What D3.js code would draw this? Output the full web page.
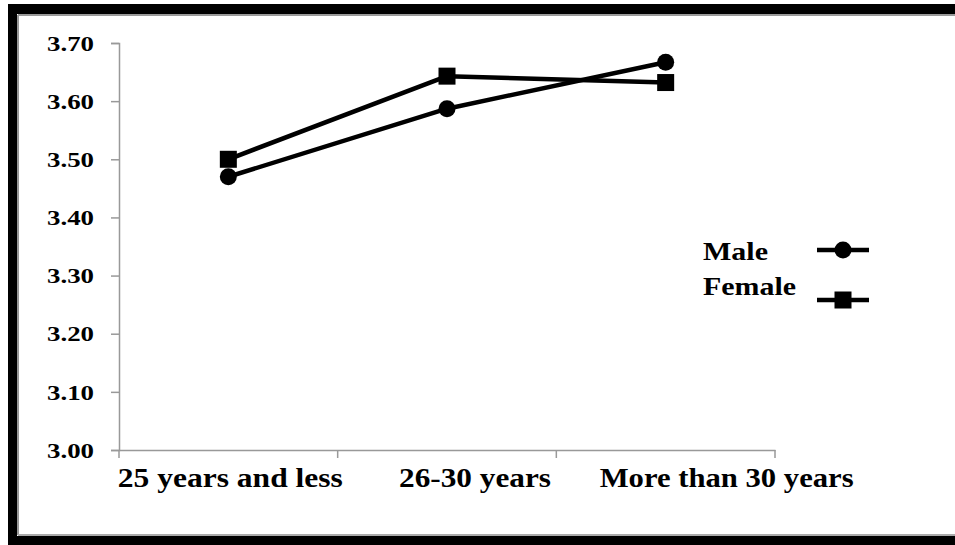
<!DOCTYPE html>
<html>
<head>
<meta charset="utf-8">
<script src="https://cdn.jsdelivr.net/npm/d3@7/dist/d3.min.js"></script>
<style>
  html, body { margin: 0; padding: 0; background: #fff; }
  svg { display: block; }
</style>
</head>
<body>
<svg id="chart" width="955" height="545"></svg>
<script>
// ---- data ----
const categories = ["25 years and less", "26-30 years", "More than 30 years"];
const maleValues = [3.47, 3.587, 3.667];
const femaleValues = [3.50, 3.643, 3.632];
const yTicks = [3.00, 3.10, 3.20, 3.30, 3.40, 3.50, 3.60, 3.70];
const seriesNames = ["Male", "Female"];

// ---- layout ----
const svg = d3.select("#chart");
const plot = { left: 119, right: 775, top: 43, bottom: 450 };
const serif = "'Liberation Serif', 'Times New Roman', serif";

// frame (left, top, bottom)
svg.append("rect").attr("x", 8).attr("y", 4).attr("width", 947).attr("height", 10).attr("fill", "#000");
svg.append("rect").attr("x", 8).attr("y", 4).attr("width", 9).attr("height", 541).attr("fill", "#000");
svg.append("rect").attr("x", 8).attr("y", 536).attr("width", 947).attr("height", 9).attr("fill", "#000");
svg.append("line").attr("x1", 18).attr("x2", 955).attr("y1", 15).attr("y2", 15).attr("stroke", "#999").attr("stroke-width", 2);
svg.append("line").attr("x1", 18).attr("x2", 18).attr("y1", 15).attr("y2", 535).attr("stroke", "#999").attr("stroke-width", 2);
svg.append("line").attr("x1", 18).attr("x2", 955).attr("y1", 535).attr("y2", 535).attr("stroke", "#aaa").attr("stroke-width", 2);

const x = d3.scaleBand().domain(categories).range([plot.left, plot.right]).padding(0);
const y = d3.scaleLinear().domain([3.0, 3.7]).range([plot.bottom, plot.top]);

// y axis
const yAxis = d3.axisLeft(y).tickValues(yTicks).tickSize(8).tickFormat(d3.format(".2f"));
const gy = svg.append("g").attr("transform", `translate(${plot.left},0)`).call(yAxis);
gy.select(".domain").attr("stroke", "#999").attr("stroke-width", 1.5);
gy.selectAll(".tick line").attr("stroke", "#999").attr("stroke-width", 1.5);
gy.selectAll(".tick text")
  .attr("x", -25).attr("dy", "0.36em")
  .attr("font-family", serif).attr("font-weight", "bold").attr("font-size", 20)
  .attr("fill", "#000")
  .attr("textLength", 47).attr("lengthAdjust", "spacingAndGlyphs");

// x axis
const xAxis = d3.axisBottom(x).tickValues([]).tickSizeOuter(0);
const gx = svg.append("g").attr("transform", `translate(0,${plot.bottom})`).call(xAxis);
gx.select(".domain").attr("stroke", "#999").attr("stroke-width", 1.5);
// boundary ticks between categories
const bounds = categories.map(c => x(c)).concat([x.range()[1]]);
gx.selectAll("line.bt").data(bounds).join("line").attr("class", "bt")
  .attr("x1", d => d).attr("x2", d => d).attr("y1", 0).attr("y2", 8)
  .attr("stroke", "#999").attr("stroke-width", 1.5);

// x labels (measured offsets and widths)
const labelOffsets = [2, 28, 61];
const labelWidths = [225, 152, 254];
gx.selectAll("text.xl").data(categories).join("text").attr("class", "xl")
  .attr("x", (d, i) => x(d) + x.bandwidth() / 2 + labelOffsets[i])
  .attr("y", 37)
  .attr("text-anchor", "middle")
  .attr("font-family", serif).attr("font-weight", "bold").attr("font-size", 27)
  .attr("fill", "#000")
  .attr("textLength", (d, i) => labelWidths[i]).attr("lengthAdjust", "spacingAndGlyphs")
  .text(d => d);

// lines
const cx = c => x(c) + x.bandwidth() / 2;
const line = d3.line().x((d, i) => cx(categories[i])).y(d => y(d));
[maleValues, femaleValues].forEach(vals => {
  svg.append("path").datum(vals).attr("d", line)
    .attr("fill", "none").attr("stroke", "#000").attr("stroke-width", 4.5)
    .attr("stroke-linejoin", "round");
});

// markers
const sq = 17;
svg.selectAll("circle.m").data(maleValues).join("circle").attr("class", "m")
  .attr("cx", (d, i) => cx(categories[i])).attr("cy", d => y(d)).attr("r", 8.5).attr("fill", "#000");
svg.selectAll("rect.f").data(femaleValues).join("rect").attr("class", "f")
  .attr("x", (d, i) => cx(categories[i]) - sq / 2).attr("y", d => y(d) - sq / 2)
  .attr("width", sq).attr("height", sq).attr("fill", "#000");

// legend
const legend = svg.append("g");
const legendRows = [
  { name: seriesNames[0], ty: 260, ly: 250, w: 65 },
  { name: seriesNames[1], ty: 295, ly: 300, w: 93 }
];
legendRows.forEach((r, i) => {
  legend.append("text").attr("x", 703).attr("y", r.ty)
    .attr("font-family", serif).attr("font-weight", "bold").attr("font-size", 26)
    .attr("fill", "#000")
    .attr("textLength", r.w).attr("lengthAdjust", "spacingAndGlyphs")
    .text(r.name);
  legend.append("line").attr("x1", 817).attr("x2", 869).attr("y1", r.ly).attr("y2", r.ly)
    .attr("stroke", "#000").attr("stroke-width", 4.5);
  if (i === 0) {
    legend.append("circle").attr("cx", 843).attr("cy", r.ly).attr("r", 8.5).attr("fill", "#000");
  } else {
    legend.append("rect").attr("x", 843 - sq / 2).attr("y", r.ly - sq / 2).attr("width", sq).attr("height", sq).attr("fill", "#000");
  }
});
</script>
</body>
</html>
